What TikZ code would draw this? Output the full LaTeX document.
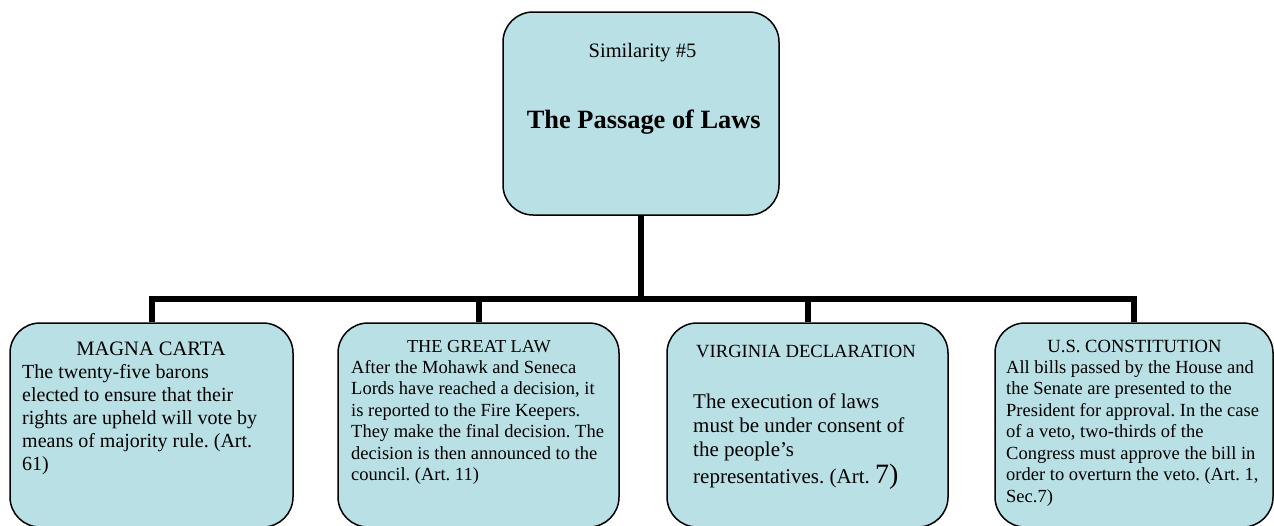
\documentclass[tikz,border=0pt]{standalone}
\usepackage{fontspec}
\setmainfont{Liberation Serif}
\frenchspacing
\definecolor{boxfill}{RGB}{185,224,228}
\newcommand\fsz[2]{\fontsize{#1}{#2}\selectfont}
\tikzset{
  box/.style={draw=black, line width=1.5pt, fill=boxfill, rounded corners=30pt, inner sep=0pt},
  bus/.style={draw=black, line width=6pt},
  head/.style={anchor=base, inner sep=0pt},
  body/.style={anchor=north west, inner sep=0pt, align=left}
}
\begin{document}
\begin{tikzpicture}[x=1pt,y=-1pt]
\useasboundingbox (0,0) rectangle (1274,525);
% boxes
\node[box, minimum width=276, minimum height=203] (top) at (641,113.5) {};
\node[box, minimum width=283, minimum height=204] (b1) at (151.5,425) {};
\node[box, minimum width=281, minimum height=204] (b2) at (478.5,425) {};
\node[box, minimum width=281, minimum height=204] (b3) at (807.5,425) {};
\node[box, minimum width=278, minimum height=204] (b4) at (1134,425) {};
% connectors
\coordinate (j) at (641,299);
\draw[bus] (top.south) -- (j);
\draw[bus] (b1.north) |- (j);
\draw[bus] (b2.north) |- (j);
\draw[bus] (b3.north) |- (j);
\draw[bus] (b4.north) |- (j);
% top text
\node[head, font=\fsz{20.5}{24}] (ts) at (642.5,57) {Similarity \#5};
\node[head, font=\fsz{26.4}{30}\bfseries] (tt) at (643.8,128) {The Passage of Laws};
% box 1
\node[head, font=\fsz{20.5}{23}] (h1) at (151,355) {MAGNA CARTA};
\node[body, font=\fsz{20}{23}] (t1) at (22,361.9) {\strut The twenty-five barons\\
elected to ensure that their\\
rights are upheld will vote by\\
means of majority rule. (Art.\\
61)};
% box 2
\node[head, font=\fsz{18.3}{21.5}] (h2) at (479,352) {THE GREAT LAW};
\node[body, font=\fsz{18.5}{21.5}] (t2) at (351,357.95) {\strut After the Mohawk and Seneca\\
Lords have reached a decision, it\\
is reported to the Fire Keepers.\\
They make the final decision. The\\
decision is then announced to the\\
council. (Art. 11)};
% box 3
\node[head, font=\fsz{18.6}{21.5}] (h3) at (806,357) {VIRGINIA DECLARATION};
\node[body, font=\fsz{21}{24}] (t3) at (693,391.2) {\strut The execution of laws\\
must be under consent of\\
the people’s\\[3pt]
representatives. (Art. {\fsz{28}{28}7)}};
% box 4
\node[head, font=\fsz{18.6}{21.5}] (h4) at (1134.5,352) {U.S. CONSTITUTION};
\node[body, font=\fsz{18.5}{21.5}] (t4) at (1006,357.95) {\strut All bills passed by the House and\\
the Senate are presented to the\\
President for approval. In the case\\
of a veto, two-thirds of the\\
Congress must approve the bill in\\
order to overturn the veto. (Art. 1,\\
Sec.7)};
\end{tikzpicture}
\end{document}
